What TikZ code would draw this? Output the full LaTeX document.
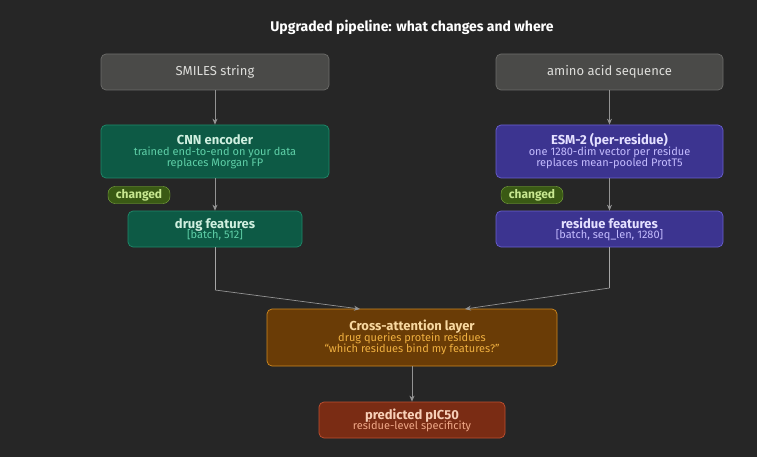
\documentclass[tikz,border=0pt]{standalone}
\usepackage{fontspec}
\setmainfont{Fira Sans}
\usetikzlibrary{arrows.meta}
\definecolor{bg}{HTML}{262626}
\definecolor{gyF}{HTML}{4A4A48}\definecolor{gyD}{HTML}{6C6C6A}\definecolor{gyT}{HTML}{DDDDDA}
\definecolor{grF}{HTML}{0D5A45}\definecolor{grD}{HTML}{1F8A6A}\definecolor{grT}{HTML}{D0F0E0}\definecolor{grS}{HTML}{5FD0A8}
\definecolor{puF}{HTML}{3C3490}\definecolor{puD}{HTML}{6A60D0}\definecolor{puT}{HTML}{E4E0FF}\definecolor{puS}{HTML}{C4BCFF}
\definecolor{orF}{HTML}{6A3C06}\definecolor{orD}{HTML}{D08A20}\definecolor{orT}{HTML}{F8D8A0}\definecolor{orS}{HTML}{F0B040}
\definecolor{reF}{HTML}{7A2C14}\definecolor{reD}{HTML}{C05030}\definecolor{reT}{HTML}{F8D0B8}\definecolor{reS}{HTML}{F0A888}
\definecolor{chF}{HTML}{3A5A14}\definecolor{chD}{HTML}{80B040}\definecolor{chT}{HTML}{C8E890}
\begin{document}
\begin{tikzpicture}[x=1pt,y=-1pt,
 box/.style={draw,rounded corners=5pt,line width=0.7pt,align=center,inner sep=0pt},
 tf/.style={font=\fontsize{13}{15}\selectfont\bfseries},
 sf/.style={font=\fontsize{11}{12.5}\selectfont},
 tag/.style={draw=chD,fill=chF,text=chT,rounded corners=7pt,minimum width=62pt,minimum height=17pt,inner sep=0pt,font=\fontsize{12}{14}\selectfont\bfseries},
 arr/.style={draw=gray!85,line width=0.7pt,-{Stealth[length=6pt,width=5pt]}},
 ln/.style={draw=gray!70,line width=0.6pt}]
\fill[bg] (0,0) rectangle (757,457);
\useasboundingbox (0,0) rectangle (757,457);
\node[text=white!92,font=\fontsize{14}{16}\selectfont\bfseries] (title) at (412,27) {Upgraded pipeline: what changes and where};
\node[box,fill=gyF,draw=gyD,minimum width=228pt,minimum height=36pt,text=gyT,tf,font=\fontsize{13}{15}\selectfont] (smi) at (215,72) {SMILES string};
\node[box,fill=gyF,draw=gyD,minimum width=227pt,minimum height=36pt,text=gyT,tf,font=\fontsize{13}{15}\selectfont] (ami) at (609.5,72) {amino acid sequence};
\node[box,fill=grF,draw=grD,minimum width=228pt,minimum height=53pt] (cnn) at (215,151.5) {\textcolor{grT}{\fontsize{13}{16}\selectfont\bfseries CNN encoder}\\[-1pt]\textcolor{grS}{\fontsize{11}{12.5}\selectfont trained end-to-end on your data}\\[-1pt]\textcolor{grS}{\fontsize{11}{12.5}\selectfont replaces Morgan FP}};
\node[box,fill=puF,draw=puD,minimum width=227pt,minimum height=53pt] (esm) at (609.5,151.5) {\textcolor{puT}{\fontsize{13}{16}\selectfont\bfseries ESM-2 (per-residue)}\\[-1pt]\textcolor{puS}{\fontsize{11}{12.5}\selectfont one 1280-dim vector per residue}\\[-1pt]\textcolor{puS}{\fontsize{11}{12.5}\selectfont replaces mean-pooled ProtT5}};
\node[tag] (c1) at (139,195) {changed};
\node[tag] (c2) at (532,195) {changed};
\node[box,fill=grF,draw=grD,minimum width=174pt,minimum height=36pt] (df) at (215,229) {\textcolor{grT}{\fontsize{13}{15}\selectfont\bfseries drug features}\\[-2pt]\textcolor{grS}{\fontsize{11}{12.5}\selectfont [batch, 512]}};
\node[box,fill=puF,draw=puD,minimum width=227pt,minimum height=36pt] (rf) at (609.5,229) {\textcolor{puT}{\fontsize{13}{15}\selectfont\bfseries residue features}\\[-2pt]\textcolor{puS}{\fontsize{11}{12.5}\selectfont [batch, seq\_len, 1280]}};
\node[box,fill=orF,draw=orD,minimum width=290pt,minimum height=57pt] (ca) at (412,337.5) {\textcolor{orT}{\fontsize{13}{16}\selectfont\bfseries Cross-attention layer}\\[-1pt]\textcolor{orS}{\fontsize{11}{12.5}\selectfont drug queries protein residues}\\[-1pt]\textcolor{orS}{\fontsize{11}{12.5}\selectfont ``which residues bind my features?''}};
\node[box,fill=reF,draw=reD,minimum width=186pt,minimum height=36pt] (pic) at (412,420) {\textcolor{reT}{\fontsize{13}{15}\selectfont\bfseries predicted pIC50}\\[-2pt]\textcolor{reS}{\fontsize{11}{12.5}\selectfont residue-level specificity}};
\coordinate (j1) at (215,290);
\coordinate (j2) at (609.5,288);
\draw[arr] (smi) -- (cnn);
\draw[arr] (ami) -- (esm);
\draw[arr] (cnn) -- (df);
\draw[arr] (esm) -- (rf);
\draw[ln] (df) -- (j1);
\draw[arr] (j1) -- (360,309);
\draw[ln] (rf) -- (j2);
\draw[arr] (j2) -- (465,309);
\draw[arr] (ca) -- (pic);
\end{tikzpicture}
\end{document}
